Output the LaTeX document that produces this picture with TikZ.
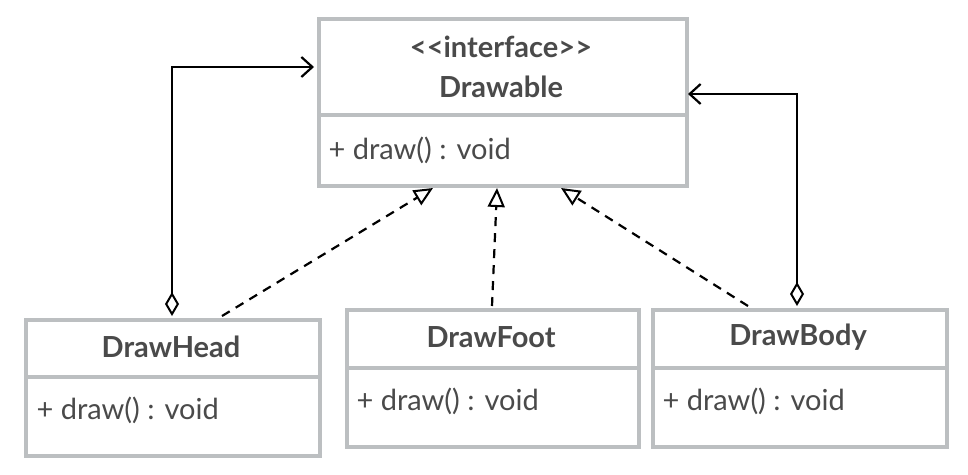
\documentclass[tikz,border=0pt]{standalone}
\usepackage{fontspec}
\setmainfont[Ligatures=Common]{Lato}
\usetikzlibrary{arrows.meta}
\definecolor{boxgray}{HTML}{BCBFC1}
\definecolor{txtgray}{HTML}{4A4A4A}
\tikzset{
  umlbox/.style={draw=boxgray,line width=3.5pt,fill=white},
  title/.style={text=txtgray,font=\fontsize{29}{34}\selectfont\bfseries,anchor=center},
  meth/.style={text=txtgray,font=\fontsize{29}{34}\selectfont,anchor=west},
  assoc/.style={line width=2.2pt,
    {Diamond[open,length=24pt,width=14pt,line width=2pt]}-{Straight Barb[length=11pt,width=20pt,line width=2.2pt]}},
  real/.style={line width=2.2pt,dash pattern=on 9pt off 7pt,-{Triangle[open,length=19pt,width=17pt,line width=2pt]}},
}
\begin{document}
\begin{tikzpicture}[x=1pt,y=-1pt]
\useasboundingbox (0,0) rectangle (968,474);
% Drawable
\node[umlbox,minimum width=368pt,minimum height=167pt,anchor=north west,inner sep=0pt] (I) at (317,17) {};
\draw[draw=boxgray,line width=3.5pt] (317,115) -- (685,115);
\node[title] (It1) at (501,47) {{<}{<}interface{>}{>}};
\node[title] (It2) at (501,87) {Drawable};
\node[meth] (Im) at (325,150) {+ draw() : void};
% DrawHead
\node[umlbox,minimum width=294pt,minimum height=136pt,anchor=north west,inner sep=0pt] (H) at (24,318) {};
\draw[draw=boxgray,line width=3.5pt] (24,377) -- (318,377);
\node[title] (Ht) at (171,347) {DrawHead};
\node[meth] (Hm) at (33,410) {+ draw() : void};
% DrawFoot
\node[umlbox,minimum width=292pt,minimum height=137pt,anchor=north west,inner sep=0pt] (F) at (345,308) {};
\draw[draw=boxgray,line width=3.5pt] (345,368) -- (637,368);
\node[title] (Ft) at (491,337) {DrawFoot};
\node[meth] (Fm) at (353,401) {+ draw() : void};
% DrawBody
\node[umlbox,minimum width=294pt,minimum height=137pt,anchor=north west,inner sep=0pt] (B) at (651,308) {};
\draw[draw=boxgray,line width=3.5pt] (651,368) -- (945,368);
\node[title] (Bt) at (798,337) {DrawBody};
\node[meth] (Bm) at (659,401) {+ draw() : void};
% coordinates
\coordinate (hd) at (172,316);
\coordinate (hc) at (172,67);
\coordinate (ht) at (314,67);
\coordinate (bd) at (797,306);
\coordinate (bc) at (797,94);
\coordinate (bt) at (688,94);
\draw[assoc] (hd) -- (hc) -- (ht);
\draw[assoc] (bd) -- (bc) -- (bt);
\coordinate (h1) at (222,316);
\coordinate (h2) at (433,188);
\coordinate (f1) at (492,306);
\coordinate (f2) at (497,188);
\coordinate (b1) at (748,306);
\coordinate (b2) at (561,188);
\draw[real] (h1) -- (h2);
\draw[real] (f1) -- (f2);
\draw[real] (b1) -- (b2);
\end{tikzpicture}
\end{document}
